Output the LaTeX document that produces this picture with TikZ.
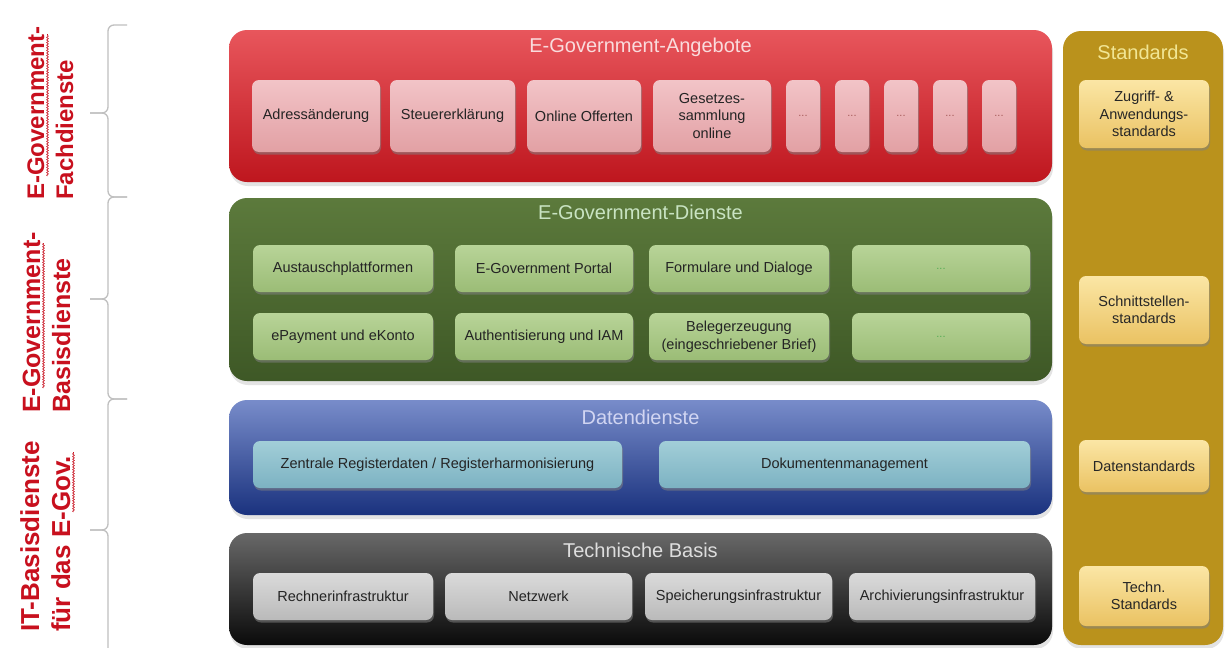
\documentclass[tikz,border=0pt]{standalone}
\usepackage{fontspec}
\setmainfont{Liberation Sans}
\usetikzlibrary{shadows,decorations.pathmorphing}
\definecolor{rtop}{RGB}{232,86,92}
\definecolor{rbot}{RGB}{190,22,30}
\definecolor{ritop}{RGB}{242,196,199}
\definecolor{ribot}{RGB}{226,160,164}
\definecolor{gtop}{RGB}{92,122,60}
\definecolor{gbot}{RGB}{62,88,38}
\definecolor{gitop}{RGB}{184,212,152}
\definecolor{gibot}{RGB}{155,188,118}
\definecolor{btop}{RGB}{120,140,202}
\definecolor{bbot}{RGB}{26,50,126}
\definecolor{bitop}{RGB}{162,206,216}
\definecolor{bibot}{RGB}{124,178,194}
\definecolor{ktop}{RGB}{104,104,104}
\definecolor{kbot}{RGB}{10,10,10}
\definecolor{kitop}{RGB}{218,218,218}
\definecolor{kibot}{RGB}{186,186,186}
\definecolor{stdc}{RGB}{186,146,28}
\definecolor{sitop}{RGB}{251,230,165}
\definecolor{sibot}{RGB}{234,194,98}
\definecolor{lblred}{RGB}{200,16,30}
\definecolor{bracegray}{RGB}{192,192,192}
\definecolor{txtdark}{RGB}{36,36,36}
\begin{document}
\begin{tikzpicture}[x=1pt,y=-1pt,
  outer/.style={rounded corners=18pt, inner sep=0pt, draw=none,
    drop shadow={opacity=0.22,shadow xshift=1pt,shadow yshift=-4pt}},
  ttl/.style={font=\fontsize{20}{24}\selectfont, inner sep=0pt, opacity=0.8},
  inbox/.style={rounded corners=7pt, inner sep=1pt, align=center, text=txtdark,
    font=\fontsize{14.5}{17.5}\selectfont,
    drop shadow={opacity=0.55,shadow xshift=1pt,shadow yshift=-2.5pt}},
  redin/.style={inbox, top color=ritop, bottom color=ribot, minimum height=72pt},
  grnin/.style={inbox, top color=gitop, bottom color=gibot, minimum height=47pt},
  bluin/.style={inbox, top color=bitop, bottom color=bibot, minimum height=47pt},
  gryin/.style={inbox, top color=kitop, bottom color=kibot, minimum height=47pt},
  stdin/.style={inbox, top color=sitop, bottom color=sibot, minimum width=130pt, text=black!85},
  dots/.style={font=\fontsize{11}{12}\selectfont},
  lbl/.style={text=lblred, inner sep=0pt, rotate=90, anchor=base west},
  bracestyle/.style={draw=bracegray, line width=1.3pt, rounded corners=6pt},
  squig/.style={draw=lblred, line width=0.6pt, decorate, decoration={snake, amplitude=0.9pt, segment length=2.6pt}}
]
\useasboundingbox (0,0) rectangle (1227,648);
\fill[white] (0,0) rectangle (1227,648);

% braces
\begin{scope}
\clip (0,0) rectangle (1227,648);
\draw[bracestyle] (127,25) -- (108,25) -- (108,113) -- (90,113);
\draw[bracestyle] (90,113) -- (108,113) -- (108,197) -- (127,197);
\draw[bracestyle] (127,197) -- (108,197) -- (108,299) -- (90,299);
\draw[bracestyle] (90,299) -- (108,299) -- (108,399) -- (127,399);
\draw[bracestyle] (127,399) -- (108,399) -- (108,530) -- (90,530);
\draw[bracestyle] (90,530) -- (108,530) -- (108,662) -- (127,662);
\end{scope}

% left labels
\node[lbl, font=\fontsize{24}{28}\selectfont\bfseries] (l1a) at (44,200) {E-Government-};
\node[lbl, font=\fontsize{24}{28}\selectfont\bfseries] (l1b) at (73,200) {Fachdienste};
\node[lbl, font=\fontsize{25}{30}\selectfont\bfseries] (l2a) at (40,413) {E-Government-};
\node[lbl, font=\fontsize{25}{30}\selectfont\bfseries] (l2b) at (70,413) {Basisdienste};
\node[lbl, font=\fontsize{26}{31}\selectfont\bfseries] (l3a) at (39,632) {IT-Basisdienste};
\node[lbl, font=\fontsize{26}{31}\selectfont\bfseries] (l3b) at (70,632) {für das E-Gov.};
\draw[squig] (47.5,176) -- (47.5,34);
\draw[squig] (43.5,388) -- (43.5,243);
\draw[squig] (73.5,512) -- (73.5,452);

% red layer
\node[outer, top color=rtop, bottom color=rbot, minimum width=823pt, minimum height=152pt] (red) at (640.5,106) {};
\node[ttl, text=white] (redt) at (640.5,47) {E-Government-Angebote};
\node[redin, minimum width=128pt] (adr) at (316,116) {Adressänderung};
\node[redin, minimum width=125pt] (steu) at (452.5,116) {Steuererklärung};
\node[redin, minimum width=114pt] (onl) at (584,116) {Online Offerten};
\node[redin, minimum width=118pt] (ges) at (712,116) {Gesetzes-\\sammlung\\online};
\node[redin, minimum width=34pt, dots, text=red!30!gray] (rd1) at (803,116) {...};
\node[redin, minimum width=34pt, dots, text=red!30!gray] (rd2) at (852,116) {...};
\node[redin, minimum width=34pt, dots, text=red!30!gray] (rd3) at (901,116) {...};
\node[redin, minimum width=34pt, dots, text=red!30!gray] (rd4) at (950,116) {...};
\node[redin, minimum width=34pt, dots, text=red!30!gray] (rd5) at (999,116) {...};

% green layer
\node[outer, top color=gtop, bottom color=gbot, minimum width=823pt, minimum height=183pt] (grn) at (640.5,289.5) {};
\node[ttl, text=green!10!white] (grnt) at (640.5,212) {E-Government-Dienste};
\node[grnin, minimum width=180pt] (aus) at (343,268.5) {Austauschplattformen};
\node[grnin, minimum width=178pt] (por) at (544,268.5) {E-Government Portal};
\node[grnin, minimum width=180pt] (for) at (739,268.5) {Formulare und Dialoge};
\node[grnin, minimum width=178pt, dots, text=green!35!gray] (gd1) at (941,268.5) {...};
\node[grnin, minimum width=180pt] (epa) at (343,336.5) {ePayment und eKonto};
\node[grnin, minimum width=178pt] (aut) at (544,336.5) {Authentisierung und IAM};
\node[grnin, minimum width=180pt] (bel) at (739,336.5) {Belegerzeugung\\(eingeschriebener Brief)};
\node[grnin, minimum width=178pt, dots, text=green!35!gray] (gd2) at (941,336.5) {...};

% blue layer
\node[outer, top color=btop, bottom color=bbot, minimum width=823pt, minimum height=115pt] (blu) at (640.5,457.5) {};
\node[ttl, text=blue!8!white] (blut) at (640.5,417) {Datendienste};
\node[bluin, minimum width=369pt] (zen) at (437.5,464.5) {Zentrale Registerdaten / Registerharmonisierung};
\node[bluin, minimum width=371pt] (dok) at (844.5,464.5) {Dokumentenmanagement};

% gray layer
\node[outer, top color=ktop, bottom color=kbot, minimum width=823pt, minimum height=112pt] (gry) at (640.5,589) {};
\node[ttl, text=white] (gryt) at (640.5,550) {Technische Basis};
\node[gryin, minimum width=180pt] (rec) at (343,596.5) {Rechnerinfrastruktur};
\node[gryin, minimum width=187pt] (net) at (538.5,596.5) {Netzwerk};
\node[gryin, minimum width=187pt] (spe) at (738.5,596.5) {Speicherungsinfrastruktur};
\node[gryin, minimum width=186pt] (arc) at (942,596.5) {Archivierungsinfrastruktur};

% standards column
\node[outer, fill=stdc, minimum width=160pt, minimum height=614pt] (std) at (1143,338) {};
\node[ttl, text=yellow!30!white] (stdt) at (1143,52) {Standards};
\node[stdin, minimum height=68pt] (zug) at (1144,114) {Zugriff- \&\\Anwendungs-\\standards};
\node[stdin, minimum height=68pt] (sch) at (1144,310) {Schnittstellen-\\standards};
\node[stdin, minimum height=52pt] (dat) at (1144,466) {Datenstandards};
\node[stdin, minimum height=60pt] (tec) at (1144,596) {Techn.\\Standards};
\end{tikzpicture}
\end{document}
